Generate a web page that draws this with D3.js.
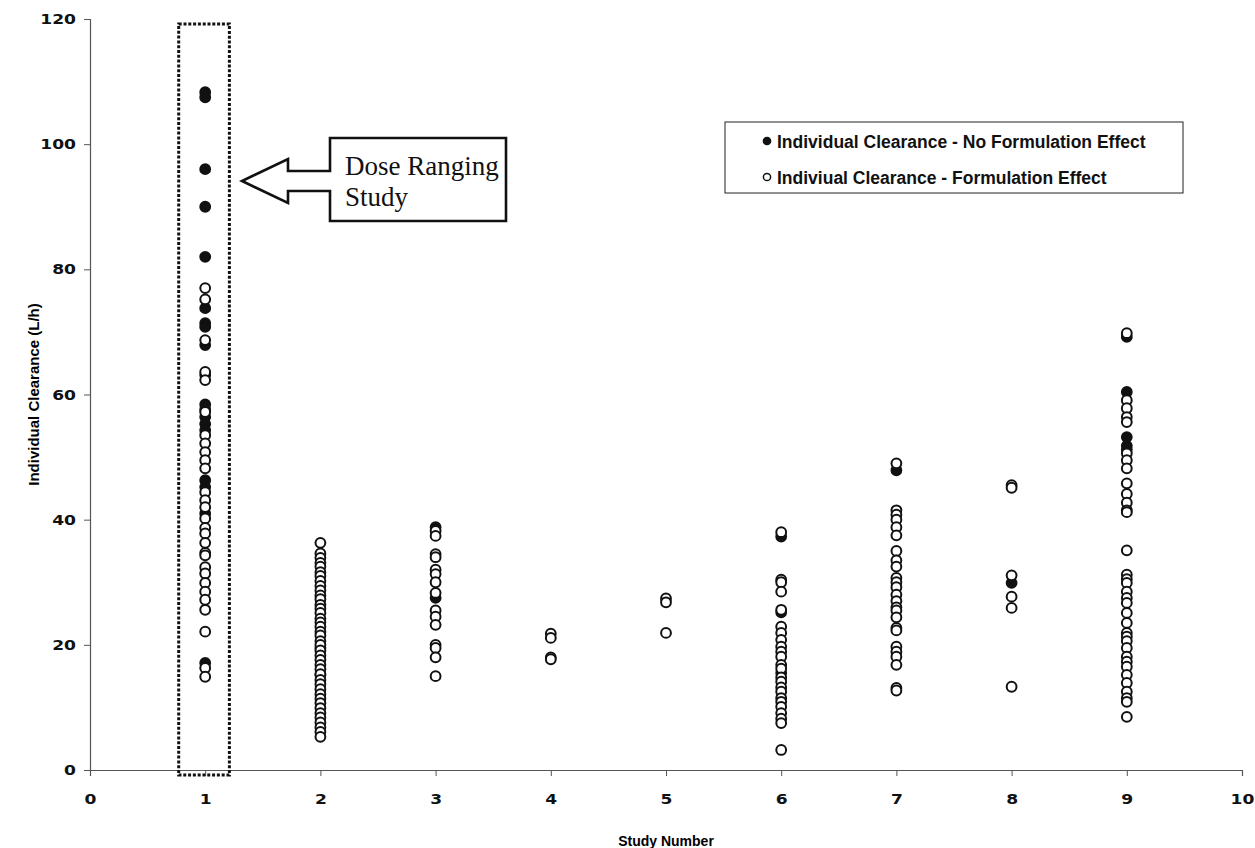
<!DOCTYPE html>
<html>
<head>
<meta charset="utf-8">
<script src="https://cdn.jsdelivr.net/npm/d3@7/dist/d3.min.js"></script>
<style>
  html, body { margin: 0; padding: 0; background: #fff; }
  svg { display: block; }
</style>
</head>
<body>
<svg id="chart" width="1255" height="848"></svg>
<script>
// Study numbers on the x axis
const studies = [1, 2, 3, 4, 5, 6, 7, 8, 9];

// Individual clearance (L/h) per study, subjects without a formulation effect
const noFormulation = {
  1: [108.3, 107.5, 96, 90, 82, 73.8, 71.4, 70.8, 67.9, 63.1, 58.4, 57.6, 56.4, 55.3, 54.3, 46.3, 45.2, 41, 17.1],
  2: [19.5, 15.2],
  3: [38.8, 27.5],
  4: [],
  5: [],
  6: [37.3, 25.2, 15.5],
  7: [47.9],
  8: [29.9],
  9: [69.2, 60.4, 53.2, 51.8, 51.2]
};

// Individual clearance (L/h) per study, subjects with a formulation effect
const withFormulation = {
  1: [77, 75.2, 68.7, 63.6, 62.3, 57.2, 53.5, 52.2, 50.8, 49.5, 48.2, 44.4, 43.1, 42, 40.2, 38.7, 37.8,
      36.3, 34.7, 34.3, 32.4, 31.4, 29.9, 28.5, 27.2, 25.6, 22.1, 16.3, 14.9],
  2: [36.3, 34.6, 33.9, 33.1, 32.5, 31.6, 31, 30.2, 29.4, 28.7, 27.9, 27.3, 26.4, 25.8, 25.1, 24.2, 23.6,
      22.9, 22.1, 21.5, 20.6, 20, 19.1, 18.3, 17.6, 16.8, 16.1, 15.3, 14.4, 13.7, 12.9, 12.1, 11.4, 10.7,
      9.9, 9.1, 8.4, 7.6, 6.8, 6.1, 5.3],
  3: [38.2, 37.4, 34.5, 34, 32, 31.3, 30, 28.3, 25.5, 24.5, 23.2, 20, 19.5, 18, 15],
  4: [21.8, 21.1, 18, 17.7],
  5: [27.4, 26.8, 21.9],
  6: [38, 30.4, 30, 28.5, 25.6, 22.9, 21.9, 20.8, 19.7, 18.9, 18.1, 16.8, 16.2, 14.8, 14.1, 13.2, 12.5,
      11.5, 10.9, 10.1, 9.1, 8.2, 7.5, 3.2],
  7: [49, 41.5, 40.8, 40, 38.8, 37.5, 35, 33.5, 32.5, 30.7, 30, 29.2, 28, 27, 26, 25.5, 24.4, 22.7,
      22.3, 19.7, 18.9, 18.1, 16.8, 13.1, 12.7],
  8: [45.5, 45.1, 31.1, 27.7, 25.9, 13.3],
  9: [69.8, 59.1, 57.8, 56.4, 55.6, 50.6, 49.5, 48.2, 45.8, 44.1, 42.7, 41.5, 41.2, 35.1, 31.2, 30.5,
      29.9, 28.5, 27.5, 26.7, 25.1, 23.5, 21.9, 21.3, 20.6, 19.5, 18.1, 17.3, 16.5, 15.2, 13.9, 12.5,
      11.5, 10.9, 8.5]
};

// Axis ticks
const xTicks = [0, 1, 2, 3, 4, 5, 6, 7, 8, 9, 10];
const yTicks = [0, 20, 40, 60, 80, 100, 120];

// Legend entries
const legendLabels = [
  "Individual Clearance - No Formulation Effect",
  "Indiviual Clearance - Formulation Effect"
];

// Callout text for the highlighted study
const calloutLines = ["Dose Ranging", "Study"];
const highlightedStudy = 1;

const svg = d3.select("#chart");

const x = d3.scaleLinear().domain([0, 10]).range([90, 1242]);
const y = d3.scaleLinear().domain([0, 120]).range([770, 19]);

const axisFont = "'Liberation Sans', Arial, sans-serif";
const tickFont = "'DejaVu Sans', Verdana, sans-serif";
const tickStretch = 1.18; // wide tick numerals

// X axis
const xAxis = svg.append("g")
  .attr("transform", `translate(0,${y(0)})`)
  .call(d3.axisBottom(x).tickValues(xTicks).tickSize(6).tickPadding(18).tickFormat(d3.format("d")));
xAxis.select(".domain").attr("stroke", "#555").attr("stroke-width", 1.2);
xAxis.selectAll(".tick line").attr("stroke", "#555");
xAxis.selectAll("text")
  .attr("transform", `scale(${tickStretch},1)`)
  .attr("font-family", tickFont).attr("font-size", 14.5).attr("font-weight", "bold").attr("fill", "#111");

// Y axis
const yAxis = svg.append("g")
  .attr("transform", `translate(${x(0)},0)`)
  .call(d3.axisLeft(y).tickValues(yTicks).tickSize(6).tickPadding(8).tickFormat(d3.format("d")));
yAxis.select(".domain").attr("stroke", "#555").attr("stroke-width", 1.2);
yAxis.selectAll(".tick line").attr("stroke", "#555");
yAxis.selectAll("text")
  .attr("x", -14 / tickStretch)
  .attr("transform", `scale(${tickStretch},1)`)
  .attr("font-family", tickFont).attr("font-size", 14.5).attr("font-weight", "bold").attr("fill", "#111");

// Axis titles
svg.append("text")
  .attr("x", (x(0) + x(10)) / 2).attr("y", 846)
  .attr("text-anchor", "middle")
  .attr("font-family", axisFont).attr("font-size", 14).attr("font-weight", "bold")
  .text("Study Number");

svg.append("text")
  .attr("transform", `translate(39,${(y(0) + y(120)) / 2}) rotate(-90)`)
  .attr("text-anchor", "middle")
  .attr("font-family", axisFont).attr("font-size", 15).attr("font-weight", "bold")
  .text("Individual Clearance (L/h)");

// Dotted frame around the dose ranging study
svg.append("rect")
  .attr("x", x(highlightedStudy - 0.23)).attr("y", y(119.2))
  .attr("width", x(highlightedStudy + 0.21) - x(highlightedStudy - 0.23))
  .attr("height", y(-0.8) - y(119.2))
  .attr("fill", "none").attr("stroke", "#111")
  .attr("stroke-width", 3).attr("stroke-dasharray", "3,1.8");

// Flatten per-study values into points
function toPoints(table) {
  const pts = [];
  studies.forEach(s => (table[s] || []).forEach(v => pts.push({ study: s, value: v })));
  return pts;
}

const r = 4.9;

// Filled markers first, open markers drawn over them
svg.append("g").selectAll("circle")
  .data(toPoints(noFormulation))
  .join("circle")
  .attr("cx", d => x(d.study)).attr("cy", d => y(d.value)).attr("r", r)
  .attr("fill", "#111").attr("stroke", "#111").attr("stroke-width", 2);

svg.append("g").selectAll("circle")
  .data(toPoints(withFormulation))
  .join("circle")
  .attr("cx", d => x(d.study)).attr("cy", d => y(d.value)).attr("r", r)
  .attr("fill", "#fff").attr("stroke", "#111").attr("stroke-width", 2);

// Arrow callout
const co = { left: 330, top: 138, right: 506, bottom: 221, tipX: 242, tipY: 181, headX: 288, headTop: 159, headBottom: 203, shaftTop: 171, shaftBottom: 191 };
const calloutPath = d3.path();
calloutPath.moveTo(co.left, co.top);
calloutPath.lineTo(co.right, co.top);
calloutPath.lineTo(co.right, co.bottom);
calloutPath.lineTo(co.left, co.bottom);
calloutPath.lineTo(co.left, co.shaftBottom);
calloutPath.lineTo(co.headX, co.shaftBottom);
calloutPath.lineTo(co.headX, co.headBottom);
calloutPath.lineTo(co.tipX, co.tipY);
calloutPath.lineTo(co.headX, co.headTop);
calloutPath.lineTo(co.headX, co.shaftTop);
calloutPath.lineTo(co.left, co.shaftTop);
calloutPath.closePath();
svg.append("path")
  .attr("d", calloutPath.toString())
  .attr("fill", "#fff").attr("stroke", "#111").attr("stroke-width", 2.6)
  .attr("stroke-linejoin", "miter");

svg.append("g").selectAll("text")
  .data(calloutLines)
  .join("text")
  .attr("x", 345).attr("y", (d, i) => 175 + i * 31)
  .attr("font-family", "'Liberation Serif', 'Times New Roman', serif")
  .attr("font-size", 27).attr("fill", "#111")
  .text(d => d);

// Legend
const legend = svg.append("g");
legend.append("rect")
  .attr("x", 725).attr("y", 122).attr("width", 458).attr("height", 71)
  .attr("fill", "#fff").attr("stroke", "#222").attr("stroke-width", 1);

const legendItems = legend.selectAll("g.item")
  .data(legendLabels)
  .join("g").attr("class", "item")
  .attr("transform", (d, i) => `translate(767,${141 + i * 36})`);

legendItems.append("circle")
  .attr("r", 3.6)
  .attr("fill", (d, i) => i === 0 ? "#111" : "#fff")
  .attr("stroke", "#111").attr("stroke-width", 1.5);

legendItems.append("text")
  .attr("x", 10).attr("y", 6.5)
  .attr("font-family", axisFont).attr("font-size", 17.5).attr("font-weight", "bold").attr("fill", "#111")
  .text(d => d);
</script>
</body>
</html>
